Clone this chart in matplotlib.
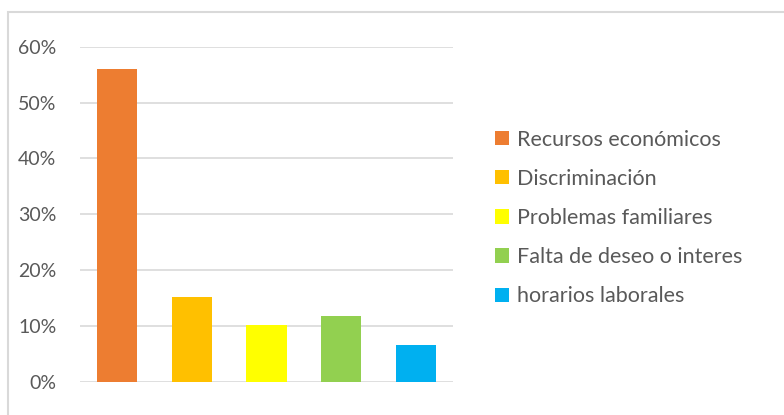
import matplotlib

matplotlib.use("Agg")
import matplotlib.pyplot as plt
from matplotlib.patches import Patch
from matplotlib.ticker import FuncFormatter

# data
categories = [
    "Recursos económicos",
    "Discriminación",
    "Problemas familiares",
    "Falta de deseo o interes",
    "horarios laborales",
]
values = [0.56, 0.152, 0.101, 0.118, 0.066]
colors = ["#ED7D31", "#FFC000", "#FFFF00", "#92D050", "#00B0F0"]
yticks = [0.0, 0.1, 0.2, 0.3, 0.4, 0.5, 0.6]

TEXT = "#595959"
GRID = "#D9D9D9"
W, H = 784, 415

plt.rcParams["font.family"] = ["Lato", "DejaVu Sans"]

fig = plt.figure(figsize=(W / 100, H / 100), dpi=100)
ax = fig.add_axes([80 / W, 1 - 381.7 / H, (453 - 80) / W, (381.7 - 46.7) / H])

x = range(len(categories))
ax.bar(x, values, width=0.54, color=colors, zorder=3)

ax.set_xlim(-0.5, len(categories) - 0.5)
ax.set_ylim(0, 0.6)
ax.set_yticks(yticks)
ax.yaxis.set_major_formatter(FuncFormatter(lambda v, _: f"{v:.0%}"))
ax.set_xticks([])
ax.tick_params(axis="y", length=0, labelsize=14, labelcolor=TEXT, pad=17)
ax.grid(axis="y", color=GRID, linewidth=1.2, zorder=0)
for s in ax.spines.values():
    s.set_visible(False)

handles = [Patch(facecolor=c, edgecolor="none") for c in colors]
fig.legend(
    handles,
    categories,
    loc="center left",
    bbox_to_anchor=(476 / W, 1 - 218 / H),
    frameon=False,
    fontsize=15.5,
    labelcolor=TEXT,
    handlelength=0.65,
    handleheight=0.65,
    handletextpad=0.35,
    labelspacing=0.89,
)

# chart frame: only the top and left edges fall inside the picture
border = plt.Rectangle((8 / W, -0.05), 1.1, 1.05 - 12.5 / H, transform=fig.transFigure,
                       fill=False, edgecolor="#D9D9D9", linewidth=1.5, clip_on=False)
fig.add_artist(border)

fig.savefig("out.png", dpi=100)
